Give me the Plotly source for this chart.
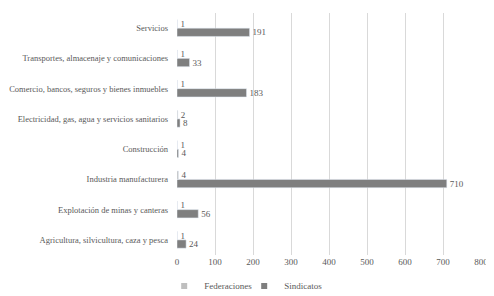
import plotly.graph_objects as go

categories = [
    "Agricultura, silvicultura, caza y pesca",
    "Explotación de minas y canteras",
    "Industria manufacturera",
    "Construcción",
    "Electricidad, gas, agua y servicios sanitarios",
    "Comercio, bancos, seguros y bienes inmuebles",
    "Transportes, almacenaje y comunicaciones",
    "Servicios",
]
federaciones = [1, 1, 4, 1, 2, 1, 1, 1]
sindicatos = [24, 56, 710, 4, 8, 183, 33, 191]
series_names = ["Federaciones", "Sindicatos"]
series_colors = ["#bfbfbf", "#7f7f7f"]

font_family = "Liberation Serif"
text_color = "#595959"
lbl = dict(size=9, color=text_color, family=font_family)

fig = go.Figure()
fig.add_trace(go.Bar(
    y=categories, x=sindicatos, orientation="h", name=series_names[1],
    marker_color=series_colors[1], text=sindicatos, textposition="outside",
    textfont=lbl, outsidetextfont=lbl, constraintext="none", cliponaxis=False,
    showlegend=False,
))
fig.add_trace(go.Bar(
    y=categories, x=federaciones, orientation="h", name=series_names[0],
    marker_color=series_colors[0], text=federaciones, textposition="outside",
    textfont=lbl, outsidetextfont=lbl, constraintext="none", cliponaxis=False,
    showlegend=False,
))
# legend entries with small square swatches
for name, color in zip(series_names, series_colors):
    fig.add_trace(go.Scatter(
        x=[None], y=[None], mode="markers", name=name,
        marker=dict(symbol="square", size=6, color=color),
    ))

fig.update_layout(
    width=486, height=288,
    margin=dict(l=169, r=13, t=5, b=41),
    barmode="group", bargap=0.45, bargroupgap=0,
    plot_bgcolor="white", paper_bgcolor="white",
    font=dict(family=font_family, size=9, color=text_color),
    showlegend=True,
    legend=dict(orientation="h", xref="container", x=0.486, xanchor="center",
                yref="container", y=0.035, yanchor="middle",
                font=dict(size=9, color=text_color, family=font_family),
                itemwidth=30, tracegroupgap=0,
                entrywidth=35, entrywidthmode="pixels"),
    xaxis=dict(range=[0, 800], dtick=100, showgrid=True, gridcolor="#d9d9d9",
               gridwidth=1, zeroline=False, showline=False, ticks="",
               automargin=False,
               tickfont=dict(size=9, color=text_color, family=font_family)),
    yaxis=dict(showgrid=False, zeroline=False, showline=False, ticks="",
               ticklabelstandoff=8, automargin=False,
               tickfont=dict(size=8.5, color=text_color, family=font_family)),
)

fig.write_html("out.html")
